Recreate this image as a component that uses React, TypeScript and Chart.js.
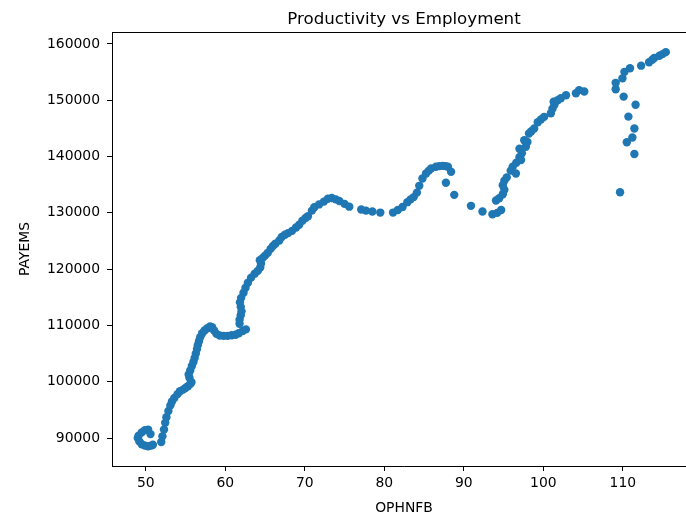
import React, { useEffect, useRef } from "react";
import { Chart, registerables } from "chart.js";

Chart.register(...registerables);

// OPHNFB (x) values, in time order
const ophnfb: number[] = [
  49.1, 49.5, 49.9, 50.3, 50.6, 49.0, 49.2, 49.5, 49.9, 50.3, 50.7, 50.9,
  51.95, 52.1, 52.3, 52.45, 52.6, 52.85, 53.1, 53.3, 53.6, 54.0, 54.3, 54.7,
  55.0, 55.3, 55.6, 55.75, 55.5, 55.4, 55.6, 55.8, 56.0, 56.15, 56.3, 56.45,
  56.55, 56.7, 56.85, 57.1, 57.4, 57.75, 58.1, 58.35, 58.6, 58.9, 59.3, 59.8,
  60.3, 60.8, 61.3, 61.7, 62.2, 62.6,
  61.8, 61.8, 61.95, 62.05, 61.95, 61.85, 62.0, 62.3, 62.55, 62.85, 63.25, 63.7,
  64.1, 64.4, 64.5, 64.35, 64.7, 65.0, 65.35, 65.7, 66.0, 66.3, 66.8, 67.1,
  67.5, 67.9, 68.4, 68.9, 69.3, 69.7, 70.1, 70.4, 70.9, 71.2, 71.8, 72.4,
  72.9, 73.4, 73.9, 74.35, 75.0, 75.6, 77.1, 77.7, 78.5, 79.5, 81.1, 81.7,
  82.3, 82.9, 83.3, 83.7, 84.1, 84.4, 84.8, 85.25, 85.6, 85.9, 86.5, 86.9,
  87.35, 87.7, 88.0, 88.4, 87.75, 88.8, 90.9, 92.35, 93.6,
  94.2, 94.7, 94.05, 94.45, 94.9, 95.1, 94.9, 95.1, 95.4, 95.9, 96.55, 96.15,
  96.6, 97.0, 97.2, 97.3, 97.0, 97.8, 97.6, 98.0, 98.2, 98.5, 98.85, 99.3,
  99.7, 100.1, 100.95, 101.15, 101.4, 101.3, 101.8, 102.2, 102.85, 104.1, 104.5, 105.15,
  109.1, 109.65, 111.45, 110.5, 111.2, 111.45, 110.7, 111.6, 110.1, 109.1, 109.95, 110.2,
  110.9, 112.3, 113.3, 113.7, 113.95, 114.6, 115.0, 115.4,
];

// PAYEMS (y) values, same order
const payems: number[] = [
  90400, 91000, 91400, 91500, 90700, 90000, 89400, 88900, 88650, 88550, 88650, 88800,
  89300, 90300, 91500, 92700, 93700, 94800, 95800, 96500, 97100, 97800, 98300, 98600,
  98900, 99200, 99600, 99900, 100700, 101300, 102000, 102800, 103500, 104200, 105000, 105800,
  106500, 107200, 107900, 108600, 109100, 109500, 109800, 109700, 109100, 108500, 108200, 108150,
  108150, 108250, 108350, 108600, 109000, 109300,
  110300, 111000, 111800, 112500, 113300, 114100, 114900, 115800, 116700, 117600, 118500, 119200,
  119700, 120300, 121000, 121600, 122000, 122400, 122900, 123600, 124100, 124500, 125100, 125700,
  126100, 126400, 126800, 127400, 127900, 128600, 129100, 129400, 130400, 131000, 131500, 132000,
  132500, 132650, 132400, 132100, 131600, 131100, 130600, 130400, 130250, 130050, 130050, 130500,
  131050, 131900, 132400, 132800, 133600, 134800, 136100, 137000, 137500, 137900, 138200, 138300,
  138350, 138300, 138200, 137300, 135350, 133200, 131250, 130250, 129750,
  130000, 130500, 132200, 132600, 133300, 134100, 134900, 135700, 136300, 137500, 137000, 138200,
  138900, 139900, 139400, 140600, 141400, 141750, 142900, 142600, 144100, 144500, 145000, 146100,
  146600, 147050, 147700, 148500, 149200, 149750, 150000, 150350, 150900, 151250, 151800, 151550,
  151950, 133650, 140450, 142550, 143400, 145000, 147100, 149200, 150650, 153100, 153900, 155050,
  155700, 156150, 156750, 157200, 157500, 157900, 158200, 158550,
];

const xTicks: number[] = [50, 60, 70, 80, 90, 100, 110];
const yTicks: number[] = [90000, 100000, 110000, 120000, 130000, 140000, 150000, 160000];

const chartTitle = "Productivity vs Employment";
const xLabel = "OPHNFB";
const yLabel = "PAYEMS";

const FONT = "'DejaVu Sans', sans-serif";

export default function App() {
  const ref = useRef<HTMLCanvasElement>(null);

  useEffect(() => {
    const canvas = ref.current;
    if (!canvas) return;

    const textPlugin = {
      id: "mplTexts",
      afterDraw(chart: any) {
        const ctx = chart.ctx as CanvasRenderingContext2D;
        const a = chart.chartArea;
        ctx.save();
        // top spine; the right spine lies beyond the visible page
        ctx.strokeStyle = "#000";
        ctx.lineWidth = 1;
        ctx.beginPath();
        ctx.moveTo(Math.round(a.left), Math.round(a.top) + 0.5);
        ctx.lineTo(Math.round(a.right), Math.round(a.top) + 0.5);
        ctx.stroke();

        ctx.fillStyle = "#000";
        const cx = (a.left + a.right) / 2;
        ctx.font = `16.67px ${FONT}`;
        ctx.textAlign = "center";
        ctx.textBaseline = "alphabetic";
        ctx.fillText(chartTitle, cx, a.top - 8.5);
        ctx.font = `13.9px ${FONT}`;
        ctx.fillText(xLabel, cx, 512);
        ctx.translate(29, (a.top + a.bottom) / 2);
        ctx.rotate(-Math.PI / 2);
        ctx.fillText(yLabel, 0, 0);
        ctx.restore();
      },
    };

    const chart = new Chart(canvas, {
      type: "scatter",
      data: {
        datasets: [
          {
            data: ophnfb.map((x, i) => ({ x, y: payems[i] })),
            backgroundColor: "#1f77b4",
            borderWidth: 0,
            pointRadius: 4.2,
            pointHoverRadius: 4.2,
          },
        ],
      },
      options: {
        animation: false,
        responsive: false,
        devicePixelRatio: 1,
        layout: { autoPadding: false, padding: { top: 32, left: 0, right: 24, bottom: 0 } },
        plugins: {
          legend: { display: false },
          tooltip: { enabled: false },
          title: { display: false },
        },
        scales: {
          x: {
            type: "linear",
            min: 45.76,
            max: 119.2,
            afterBuildTicks: (scale: any) => {
              scale.ticks = xTicks.map((v) => ({ value: v }));
            },
            afterFit: (scale: any) => {
              scale.height = 53;
            },
            grid: {
              display: true,
              drawOnChartArea: false,
              drawTicks: true,
              tickLength: 5,
              tickColor: "#000",
            },
            border: { display: true, color: "#000", width: 1 },
            ticks: {
              color: "#000",
              font: { family: FONT, size: 13.9 },
              padding: 4,
              maxRotation: 0,
              autoSkip: false,
              callback: (v: any) => String(v),
            },
          },
          y: {
            type: "linear",
            min: 85030,
            max: 162130,
            afterBuildTicks: (scale: any) => {
              scale.ticks = yTicks.map((v) => ({ value: v }));
            },
            afterFit: (scale: any) => {
              scale.width = 112;
            },
            grid: {
              display: true,
              drawOnChartArea: false,
              drawTicks: true,
              tickLength: 5,
              tickColor: "#000",
            },
            border: { display: true, color: "#000", width: 1 },
            ticks: {
              color: "#000",
              font: { family: FONT, size: 13.9 },
              padding: 7,
              autoSkip: false,
              callback: (v: any) => String(v),
            },
          },
        },
      },
      plugins: [textPlugin],
    });

    return () => {
      chart.destroy();
    };
  }, []);

  return (
    <div
      style={{
        position: "absolute",
        left: 0,
        top: 0,
        width: 686,
        height: 519,
        overflow: "hidden",
        background: "#fff",
      }}
    >
      <canvas
        ref={ref}
        width={720}
        height={519}
        style={{ display: "block", width: 720, height: 519 }}
      />
    </div>
  );
}
